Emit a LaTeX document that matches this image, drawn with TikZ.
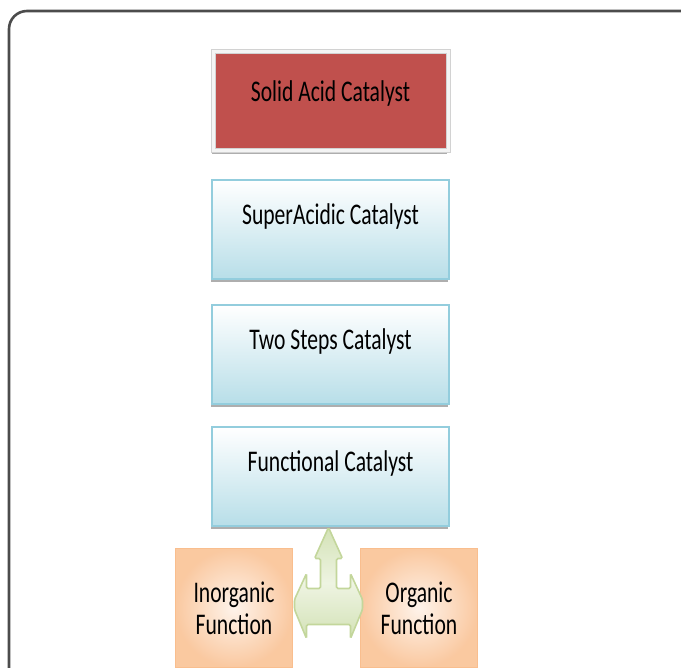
\documentclass[tikz,border=0pt]{standalone}
\usepackage{fontspec}
\usepackage{xcolor}
\usepackage{tikz}
\usetikzlibrary{positioning}
\usetikzlibrary{shadows}
\usetikzlibrary{calc}
\newfontfamily\catfont[FakeStretch=0.72]{Carlito}
\definecolor{acidred}{HTML}{C0504D}
\definecolor{framegray}{HTML}{F4F4F4}
\definecolor{frameline}{HTML}{D2D2D2}
\definecolor{aqua}{HTML}{B7DEE8}
\definecolor{aqualine}{HTML}{93CDDD}
\definecolor{peach}{HTML}{FEF3EA}
\definecolor{funcorange}{HTML}{F9BE8E}
\definecolor{leaf}{HTML}{D3E2B6}
\definecolor{leaflight}{HTML}{EEF4E2}
\definecolor{leafline}{HTML}{C3D69B}
\tikzset{
    boxnode/.style = {align=center, inner sep=0pt, text centered, text=black,
        font=\catfont\fontsize{15pt}{16pt}\selectfont},
    boxshadow/.style = {drop shadow={shadow xshift=-0.5pt, shadow yshift=-1.5pt, fill=black!45, opacity=0.7}},
    red_node/.style = {boxnode, rectangle, boxshadow, fill=acidred, draw=frameline, line width=0.5pt,
        double=framegray, double distance=1.5pt,
        minimum width=117.5pt, minimum height=49.5pt, text height=25pt, text depth=24.5pt},
    cat_node/.style = {boxnode, rectangle, boxshadow, top color=white, bottom color=aqua, draw=aqualine, line width=1pt,
        minimum width=118.5pt, minimum height=49.5pt, text height=22pt, text depth=27.5pt},
    func_node/.style = {boxnode, rectangle, boxshadow, shading=radial, inner color=peach, outer color=funcorange!80!peach,
        draw=funcorange, line width=0.5pt, minimum width=58.5pt, minimum height=59pt},
    fork_arrow/.style = {draw=leafline, line width=0.8pt, top color=leaf, bottom color=leaf, middle color=leaflight,
        rounded corners=0.8pt}
}

\begin{document}
\begin{tikzpicture}[x=0.5pt, y=-0.5pt]
    \path[use as bounding box, clip] (0,0) rectangle (681,668);

    % page frame
    \draw[black!70, line width=1.3pt, rounded corners=9] (9,11) rectangle (720,720);

    \node[red_node] (solid) at (330.5,101.5) {Solid Acid Catalyst};
    \node[cat_node, below=14pt of solid] (super) {SuperAcidic Catalyst};
    \node[cat_node, below=12pt of super] (two) {Two Steps Catalyst};
    \node[cat_node, below=10.5pt of two] (func) {Functional Catalyst};

    \node[func_node, below left=10.5pt and 18.75pt of func.south] (inorg) {Inorganic\\Function};
    \node[func_node, below right=10.5pt and 14.75pt of func.south] (org) {Organic\\Function};

    % three way block arrow
    \coordinate (hub) at ([xshift=-1pt]func.south);
    \draw[fork_arrow] (hub)
        -- ($(hub)+(14,31)$) -- ($(hub)+(8,31)$) -- ($(hub)+(8,61)$)
        -- ($(hub)+(22,61)$) -- ($(hub)+(22,46)$) -- ($(hub)+(34,72)$) -- ($(hub)+(34,82)$)
        -- ($(hub)+(22,111)$) -- ($(hub)+(22,97)$)
        -- ($(hub)+(-22,97)$) -- ($(hub)+(-22,111)$) -- ($(hub)+(-34,82)$) -- ($(hub)+(-34,72)$)
        -- ($(hub)+(-22,46)$) -- ($(hub)+(-22,61)$) -- ($(hub)+(-8,61)$)
        -- ($(hub)+(-8,31)$) -- ($(hub)+(-14,31)$) -- cycle;
\end{tikzpicture}
\end{document}
